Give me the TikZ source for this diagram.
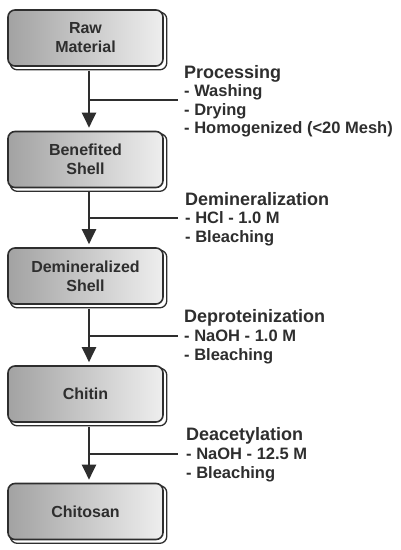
\documentclass[tikz,border=0pt]{standalone}
\usepackage{fontspec}
\setmainfont{Liberation Sans}
\usetikzlibrary{arrows.meta}
\pgfdeclarelayer{back}
\pgfdeclarelayer{bg}
\pgfsetlayers{back,bg,main}
\definecolor{ink}{HTML}{2E2E2E}
\pgfdeclarehorizontalshading{boxshade}{100bp}{color(0bp)=(black!28); color(24bp)=(black!37); color(86bp)=(white); color(100bp)=(white)}
\begin{document}
\begin{tikzpicture}[x=1pt,y=-1pt,
  stepbox/.style={rectangle, rounded corners=7pt, draw=ink, line width=1.6pt,
    shading=boxshade, minimum width=155pt, minimum height=56pt, inner sep=0pt,
    align=center, text=ink, font=\fontsize{16}{19}\selectfont\bfseries},
  shadowbox/.style={draw=ink, line width=1.3pt, fill=white, rounded corners=7pt},
  arr/.style={draw=ink, line width=2pt, -{Triangle[length=15pt,width=14pt]}},
  branch/.style={draw=ink, line width=1.5pt},
  head/.style={anchor=base west, inner sep=0pt, text=ink, font=\fontsize{18}{18}\selectfont\bfseries},
  item/.style={anchor=base west, inner sep=0pt, text=ink, font=\fontsize{16.5}{16.5}\selectfont\bfseries}]
\begin{pgfonlayer}{back}
\fill[white] (0,0) rectangle (401,550);
\end{pgfonlayer}
\useasboundingbox (0,0) rectangle (401,550);

\node[stepbox] (b1) at (85.5,38) {Raw\\Material};
\node[stepbox] (b2) at (85.5,159.5) {Benefited\\Shell};
\node[stepbox] (b3) at (85.5,276) {Demineralized\\Shell};
\node[stepbox] (b4) at (85.5,394) {Chitin};
\node[stepbox] (b5) at (85.5,511.5) {Chitosan};

\begin{pgfonlayer}{bg}
\foreach \b in {b1,b2,b3,b4,b5}
  \draw[shadowbox] ([shift={(3,3)}]\b.north west) rectangle ([shift={(3,3)}]\b.south east);
\end{pgfonlayer}

\draw[arr] ([shift={(3.5,4)}]b1.south) -- ([shift={(3.5,-3)}]b2.north);
\draw[arr] ([shift={(3.5,4)}]b2.south) -- ([shift={(3.5,-3)}]b3.north);
\draw[arr] ([shift={(3.5,4)}]b3.south) -- ([shift={(3.5,-3)}]b4.north);
\draw[arr] ([shift={(3.5,4)}]b4.south) -- ([shift={(3.5,-3)}]b5.north);

\coordinate (j1) at (89,100);  \coordinate (e1) at (178,100);
\coordinate (j2) at (89,218);  \coordinate (e2) at (178,218);
\coordinate (j3) at (89,336);  \coordinate (e3) at (178,336);
\coordinate (j4) at (89,454);  \coordinate (e4) at (178,454);
\draw[branch] (j1) -- (e1);
\draw[branch] (j2) -- (e2);
\draw[branch] (j3) -- (e3);
\draw[branch] (j4) -- (e4);

\node[head] (p0) at (184,78) {Processing};
\node[item] (p1) at (184,96.7) {- Washing};
\node[item] (p2) at (184,115) {- Drying};
\node[item] (p3) at (184,133.3) {- Homogenized (<20 Mesh)};

\node[head] (d0) at (185,205) {Demineralization};
\node[item] (d1) at (185,223.3) {- HCl - 1.0 M};
\node[item] (d2) at (185,242.7) {- Bleaching};

\node[head] (q0) at (184,322.7) {Deproteinization};
\node[item] (q1) at (184,341.7) {- NaOH - 1.0 M};
\node[item] (q2) at (184,360) {- Bleaching};

\node[head] (a0) at (186,440) {Deacetylation};
\node[item] (a1) at (186,459.3) {- NaOH - 12.5 M};
\node[item] (a2) at (186,478.3) {- Bleaching};
\end{tikzpicture}
\end{document}
